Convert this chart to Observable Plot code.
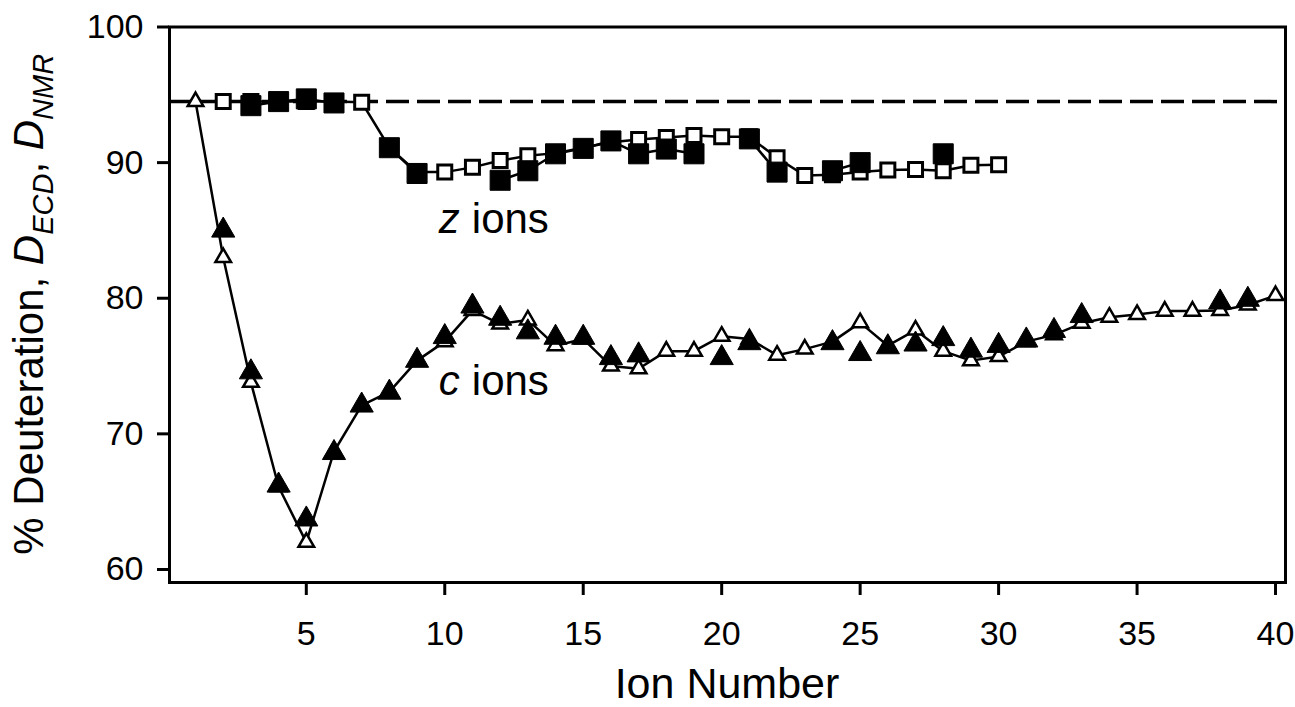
<!DOCTYPE html>
<html><head><meta charset="utf-8">
<script src="https://cdn.jsdelivr.net/npm/d3@7"></script>
<script src="https://cdn.jsdelivr.net/npm/@observablehq/plot@0.6"></script>
<style>
body{margin:0;background:#fff;}
#chart svg{display:block;}
</style>
</head><body><div id="chart"></div>
<script>
// ---- data ----
const zIonNumbers = [2,3,4,5,6,7,8,9,10,11,12,13,14,15,16,17,18,19,20,21,22,23,24,25,26,27,28,29,30];
const zOpen   = [94.5,94.5,94.5,94.5,94.5,94.45,91.1,89.3,89.3,89.65,90.15,90.5,90.7,91.1,91.5,91.7,91.85,92.0,91.9,91.9,90.35,89.05,89.1,89.3,89.45,89.5,89.4,89.8,89.85];
const zFilled = [null,94.2,94.5,94.7,94.4,null,91.1,89.2,null,null,88.7,89.4,90.65,91.05,91.6,90.65,91.0,90.65,null,91.75,89.3,null,89.4,90.0,null,null,90.65,null,null];

const cIonNumbers = [1,2,3,4,5,6,7,8,9,10,11,12,13,14,15,16,17,18,19,20,21,22,23,24,25,26,27,28,29,30,31,32,33,34,35,36,37,38,39,40];
const cOpen   = [94.5,83.0,73.8,66.1,62.0,68.7,72.1,73.1,75.4,76.8,79.1,78.1,78.4,76.5,77.0,75.0,74.8,76.1,76.1,77.2,77.0,75.8,76.25,76.8,78.2,76.5,77.65,76.1,75.4,75.7,76.8,77.3,78.15,78.6,78.8,79.05,79.05,79.1,79.5,80.2];
const cFilled = [null,85.0,74.55,66.2,63.7,68.6,72.1,73.05,75.4,77.15,79.4,78.5,77.5,77.1,77.1,75.6,75.8,null,null,75.6,76.7,null,null,76.7,75.9,76.4,76.6,77.0,76.15,76.5,76.9,77.6,78.7,null,null,null,null,79.7,79.9,null];

const nmrLevel = [94.5];
const xTicks = [5,10,15,20,25,30,35,40];
const yTicks = [60,70,80,90,100];
const seriesLabels = [
  {x: 10.76, y: 85.82, letter: "z", word: "ions"},
  {x: 10.76, y: 73.87, letter: "c", word: "ions"}
];
const xTitle = "Ion Number";

// ---- tables ----
const num = v => (v == null ? NaN : v);
const zRows = zIonNumbers.map((x, i) => ({x, open: num(zOpen[i]), filled: num(zFilled[i])}));
const cRows = cIonNumbers.map((x, i) => ({x, open: num(cOpen[i]), filled: num(cFilled[i])}));

const W = 1295, H = 707;
const plot = Plot.plot({
  width: W, height: H,
  marginLeft: 169, marginRight: 10, marginTop: 26.5, marginBottom: 125,
  style: {fontFamily: "'Liberation Sans', Arial, sans-serif", fontSize: "34px", color: "black", background: "white"},
  x: {domain: [0.06, 40.36], label: null},
  y: {domain: [59.04, 100], label: null},
  marks: [
    Plot.ruleY(nmrLevel, {stroke: "black", strokeWidth: 3.5, strokeDasharray: "23,8"}),
    Plot.line(zRows, {x: "x", y: "open", stroke: "black", strokeWidth: 2.5}),
    Plot.line(zRows, {x: "x", y: "filled", stroke: "black", strokeWidth: 2.5}),
    Plot.line(cRows, {x: "x", y: "open", stroke: "black", strokeWidth: 2.5}),
    Plot.dot(zRows, {x: "x", y: "open", symbol: "square", r: 7.9, fill: "white", stroke: "black", strokeWidth: 3}),
    Plot.dot(cRows, {x: "x", y: "open", symbol: "triangle", r: 5.8, fill: "white", stroke: "black", strokeWidth: 2.5}),
    Plot.dot(zRows, {x: "x", y: "filled", symbol: "square", r: 11.3, fill: "black", stroke: "black", strokeWidth: 1}),
    Plot.dot(cRows, {x: "x", y: "filled", symbol: "triangle", r: 8.6, fill: "black", stroke: "black", strokeWidth: 1}),
    Plot.text(seriesLabels, {x: "x", y: "y", text: "letter", textAnchor: "end", dx: -6, fontSize: 42, fontStyle: "italic", fill: "black"}),
    Plot.text(seriesLabels, {x: "x", y: "y", text: "word", textAnchor: "start", dx: 6, fontSize: 42, fill: "black"}),
    Plot.frame({stroke: "black", strokeWidth: 3}),
    Plot.axisX({ticks: xTicks, tickSize: 13, tickPadding: 25, strokeWidth: 3, label: null, fontSize: 34}),
    Plot.axisY({ticks: yTicks, tickSize: 12, tickPadding: 14, strokeWidth: 3, label: null, fontSize: 34})
  ]
});
document.getElementById("chart").appendChild(plot);

// axis titles as real text
const svg = d3.select(plot);
const plotMidY = (26.5 + (H - 125)) / 2;
const yt = svg.append("text")
  .attr("transform", `translate(43,${plotMidY}) rotate(-90)`)
  .attr("text-anchor", "middle")
  .attr("font-size", 42)
  .attr("font-family", "'Liberation Sans', Arial, sans-serif")
  .attr("fill", "black");
yt.append("tspan").text("% Deuteration, ");
yt.append("tspan").attr("font-style", "italic").text("D");
yt.append("tspan").attr("font-style", "italic").attr("font-size", 29).attr("dy", 10).text("ECD");
yt.append("tspan").attr("dy", -10).text(", ");
yt.append("tspan").attr("font-style", "italic").text("D");
yt.append("tspan").attr("font-style", "italic").attr("font-size", 29).attr("dy", 10).text("NMR");

svg.append("text")
  .attr("x", (169 + (W - 10)) / 2)
  .attr("y", 698)
  .attr("text-anchor", "middle")
  .attr("font-size", 43)
  .attr("font-family", "'Liberation Sans', Arial, sans-serif")
  .attr("fill", "black")
  .text(xTitle);
</script>
</body></html>
